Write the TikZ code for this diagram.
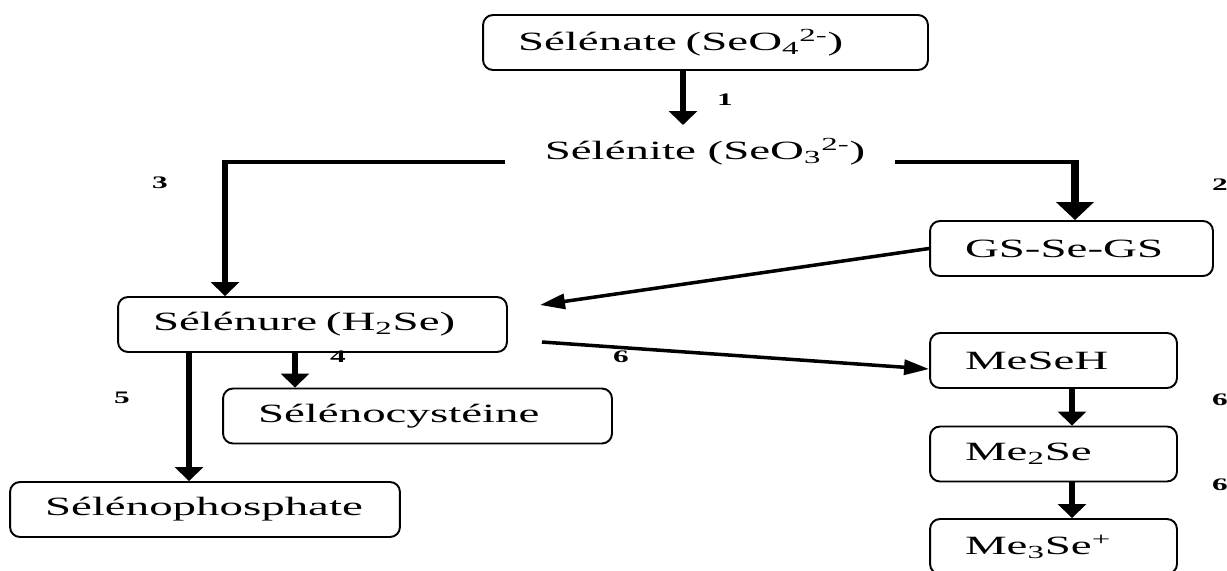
\documentclass[tikz,border=0pt]{standalone}
\usepackage{fontspec}
\setmainfont{Liberation Serif}[FakeStretch=1.78]
\usetikzlibrary{arrows.meta}
\newcommand{\boxtxt}{\fontsize{15}{18}\selectfont}
\newcommand{\numtxt}{\fontsize{10}{12}\selectfont\bfseries}
\begin{document}
\begin{tikzpicture}
  [x=0.02cm,y=-0.02cm,
   box/.style={draw,rounded corners=0.2cm,line width=1.1pt,minimum height=1.1cm,
     inner ysep=0pt,inner xsep=0.7cm,align=left,font=\boxtxt},
   num/.style={font=\numtxt,inner sep=0pt},
   hline/.style={line width=2.6pt},
   thick arrow/.style={line width=3.6pt,-{Triangle[length=0.28cm,width=0.56cm]}},
   big arrow/.style={line width=4.2pt,-{Triangle[length=0.36cm,width=0.74cm]}},
   thin arrow/.style={line width=2pt,-{Triangle[length=0.5cm,width=0.3cm]}}]
  \useasboundingbox (0,0) rectangle (1227,571);
  \node[box,text width=7.5cm] (selenate) at (705.5,42.5) {Sélénate (SeO\textsubscript{4}\textsuperscript{2-})};
  \node[font=\boxtxt] (selenite) at (705,152) {Sélénite (SeO\textsubscript{3}\textsuperscript{2-})};
  \node[box,text width=4.26cm] (gsse) at (1071.5,248.5) {GS-Se-GS};
  \node[box,text width=6.38cm] (selenure) at (312.5,324.5) {Sélénure (H\textsubscript{2}Se)};
  \node[box,text width=6.38cm] (cysteine) at (417.5,416) {Sélénocystéine};
  \node[box,text width=6.4cm] (phosphate) at (205,509.5) {Sélénophosphate};
  \node[box,text width=3.54cm] (meseh) at (1053.5,360.5) {MeSeH};
  \node[box,text width=3.54cm] (medse) at (1053.5,454) {Me\textsubscript{2}Se};
  \node[box,text width=3.54cm] (metse) at (1053.5,546.5) {Me\textsubscript{3}Se\textsuperscript{+}};

  \coordinate (c1) at (683,125);
  \coordinate (l0) at (505,162);
  \coordinate (l1) at (225,162);
  \coordinate (r0) at (895,162);
  \coordinate (r1) at (1075,162);
  \coordinate (t1) at (540,305);
  \coordinate (s6) at (542,342);

  \draw[thick arrow] (selenate.south -| c1) -- (c1);
  \draw[hline] (l0) -- (l1);
  \draw[thick arrow] ([yshift=0.04cm]l1) -- (selenure.north -| l1);
  \draw[hline] (r0) -- (r1);
  \draw[big arrow] ([yshift=0.04cm]r1) -- (gsse.north -| r1);
  \draw[thin arrow] (gsse.west) -- (t1);
  \draw[thin arrow] (s6) -- (meseh.west |- 0,369);
  \draw[thick arrow] (selenure.south -| 295,0) -- (cysteine.north -| 295,0);
  \draw[thick arrow] (selenure.south -| 189,0) -- (phosphate.north -| 189,0);
  \foreach \from/\to in {meseh/medse,medse/metse}
    \draw[thick arrow] (\from.south -| 1072,0) -- (\to.north -| 1072,0);

  \node[num] (n1) at (725,100) {1};
  \node[num] (n2) at (1220,185) {2};
  \node[num] (n3) at (160,183) {3};
  \node[num] (n4) at (338,357) {4};
  \node[num] (n5) at (122,398) {5};
  \node[num] (n6) at (621,357) {6};
  \node[num] (n7) at (1220,400) {6};
  \node[num] (n8) at (1220,485) {6};
\end{tikzpicture}
\end{document}
